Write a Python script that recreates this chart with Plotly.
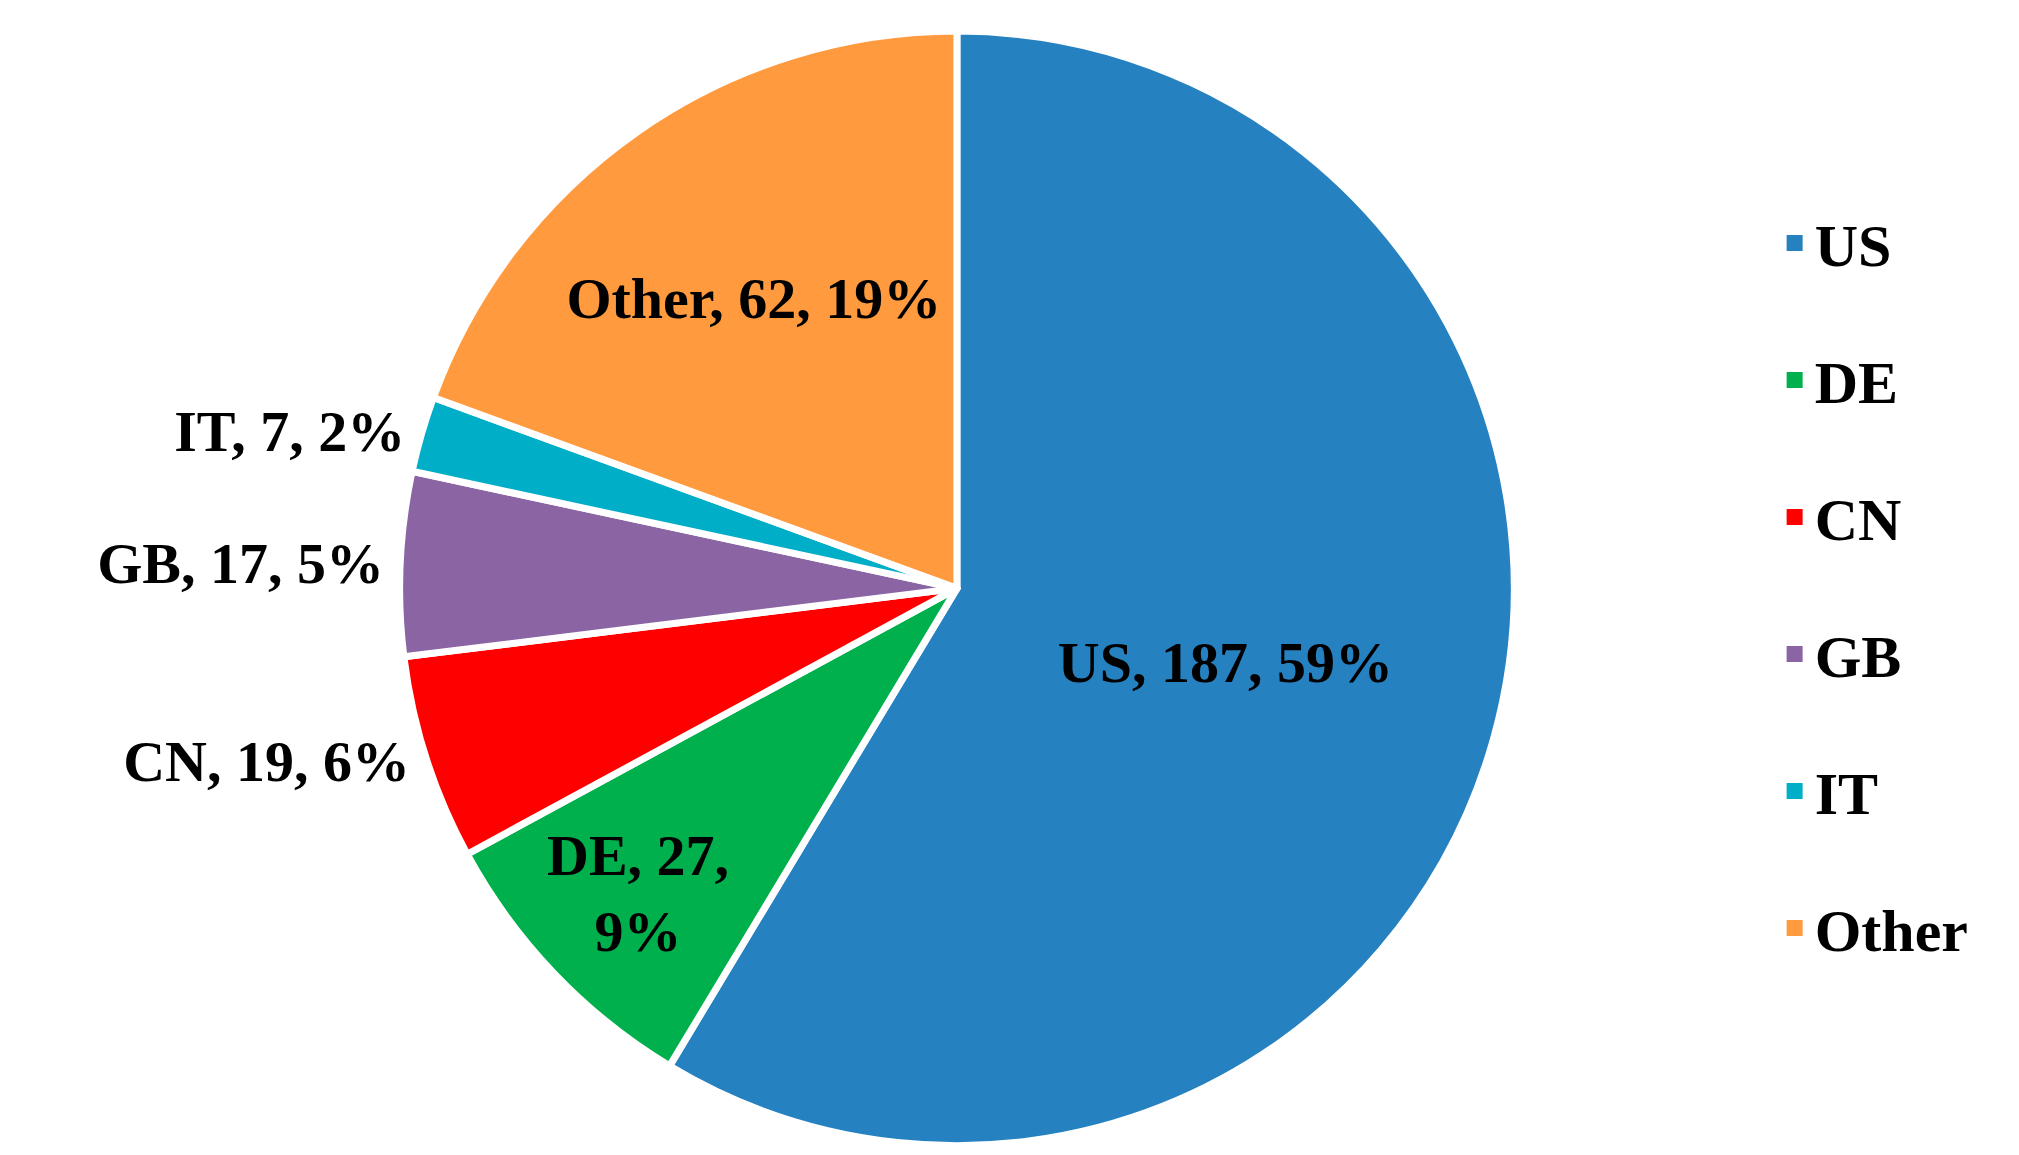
import plotly.graph_objects as go

labels = ["US", "DE", "CN", "GB", "IT", "Other"]
values = [187, 27, 19, 17, 7, 62]
pct_labels = ["59%", "9%", "6%", "5%", "2%", "19%"]
colors = ["#2681C1", "#00B04C", "#FF0000", "#8B64A4", "#00AEC8", "#FF9A3E"]
positions = ["inside", "inside", "outside", "outside", "outside", "inside"]

texts = []
for l, v, p in zip(labels, values, pct_labels):
    sep = ",<br>" if l == "DE" else ", "
    texts.append(f"{l}, {v}{sep}{p}")

fig = go.Figure(go.Pie(
    labels=labels, values=values, sort=False, direction="clockwise", rotation=0,
    marker=dict(colors=colors, line=dict(color="white", width=7)),
    text=texts, textinfo="text",
    textposition=positions, insidetextorientation="horizontal",
    textfont=dict(family="Liberation Serif", size=58, color="black", weight="bold"),
    domain=dict(x=[0.19, 0.75], y=[0.015, 0.98]),
    showlegend=False,
))
for l, c in zip(labels, colors):
    fig.add_trace(go.Scatter(x=[None], y=[None], mode="markers", name=l, legendgroup=l,
                             marker=dict(symbol="square", size=22, color=c)))
fig.update_layout(
    width=2019, height=1155, paper_bgcolor="white", plot_bgcolor="white",
    margin=dict(l=0, r=0, t=0, b=0),
    xaxis=dict(visible=False), yaxis=dict(visible=False),
    font=dict(family="Liberation Serif", color="black"),
    legend=dict(x=0.875, y=0.5, yanchor="middle", xanchor="left",
                font=dict(family="Liberation Serif", size=60, color="black", weight="bold"),
                tracegroupgap=56, itemwidth=30),
)
fig.write_html("out.html")
